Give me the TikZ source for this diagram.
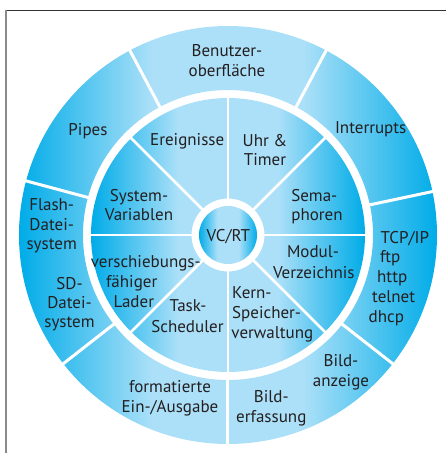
\documentclass[tikz,border=0pt]{standalone}
\usepackage{fontspec}
\setmainfont{PT Sans}
\definecolor{cdark}{RGB}{0,172,232}
\definecolor{clight}{RGB}{172,224,248}
\definecolor{txt}{RGB}{35,31,32}
\definecolor{frametop}{RGB}{51,51,51}
\definecolor{frameleft}{RGB}{138,138,138}
\pgfdeclarehorizontalshading{ringshade}{100bp}{color(0bp)=(cdark); color(25bp)=(cdark); color(41bp)=(clight); color(59bp)=(clight); color(75bp)=(cdark); color(100bp)=(cdark)}
\tikzset{
  lbl/.style={font=\fontsize{17}{20}\selectfont, inner sep=0pt, text=txt, anchor=base},
  lblw/.style={lbl, anchor=base west},
  divider/.style={draw=white, line width=3pt},
  idivider/.style={draw=white, line width=2.6pt},
}
\begin{document}
\begin{tikzpicture}[x=1pt,y=1pt]
\useasboundingbox (-228,-218) rectangle (218,235);
% frame
\draw[frametop, line width=1.2pt] (-223,224.7) -- (219,224.7);
\draw[frameleft, line width=2pt] (-222,225.3) -- (-222,-219);
% rings
\shade[shading=ringshade, even odd rule] (0,0) circle (209) (0,0) circle (145);
\shade[shading=ringshade, even odd rule] (0,0) circle (137) (0,0) circle (36.5);
\shade[shading=ringshade] (0,0) circle (29);
% dividers
\foreach \a in {12,62,118,165,218,270,322} \draw[divider] (\a:143) -- (\a:211);
\foreach \a in {0,45,...,315} \draw[idivider] (\a:35) -- (\a:139);
% outer ring labels
\node[lbl] (ben1) at (-1,178.5) {Benutzer-};
\node[lbl] (ben2) at (-1,158.5) {oberfläche};
\node[lbl] (intr) at (142.7,101.7) {Interrupts};
\node[lbl] (pipes) at (-140,99.3) {Pipes};
\node[lbl] (fl1) at (-176.3,24.3) {Flash-};
\node[lbl] (fl2) at (-176.3,5) {Datei-};
\node[lbl] (fl3) at (-176.3,-14.3) {system};
\node[lbl] (sd1) at (-158.5,-54.3) {SD-};
\node[lbl] (sd2) at (-158.5,-73.7) {Datei-};
\node[lbl] (sd3) at (-158.5,-92.7) {system};
\node[lbl] (fo1) at (-58,-157.7) {formatierte};
\node[lbl] (fo2) at (-58,-177) {Ein-/Ausgabe};
\node[lbl] (be1) at (43.3,-167.7) {Bild-};
\node[lbl] (be2) at (43.3,-187.7) {erfassung};
\node[lbl] (ba1) at (113,-131) {Bild-};
\node[lbl] (ba2) at (113,-151.7) {anzeige};
\node[lblw] (tcp1) at (152.5,-8.2) {TCP/IP};
\node[lblw] (tcp2) at (152,-27.2) {ftp};
\node[lblw] (tcp3) at (149,-47.2) {http};
\node[lblw] (tcp4) at (144,-67.2) {telnet};
\node[lblw] (tcp5) at (140.5,-87.7) {dhcp};
% inner ring labels
\node[lbl] (ereig) at (-40.8,89.3) {Ereignisse};
\node[lbl] (uhr1) at (37,88.3) {Uhr \&};
\node[lbl] (uhr2) at (37,69.3) {Timer};
\node[lbl] (sem1) at (86.3,33.3) {Sema-};
\node[lbl] (sem2) at (89,15) {phoren};
\node[lbl] (sys1) at (-89,33.3) {System-};
\node[lbl] (sys2) at (-89,15) {Variablen};
\node[lbl] (mod1) at (85,-22.7) {Modul-};
\node[lbl] (mod2) at (85.8,-43.3) {Verzeichnis};
\node[lbl] (ver1) at (-82.2,-32.7) {verschiebungs-};
\node[lbl] (ver2) at (-96.3,-52.7) {fähiger};
\node[lbl] (ver3) at (-94.2,-72.7) {Lader};
\node[lbl] (task1) at (-40,-76.5) {Task-};
\node[lbl] (task2) at (-40.5,-97.3) {Scheduler};
\node[lblw] (kern1) at (4,-63.7) {Kern-};
\node[lblw] (kern2) at (4,-83.7) {Speicher-};
\node[lblw] (kern3) at (3.3,-103.7) {verwaltung};
% centre
\node[lbl] (vc) at (0.3,-6) {VC/RT};
\end{tikzpicture}
\end{document}
